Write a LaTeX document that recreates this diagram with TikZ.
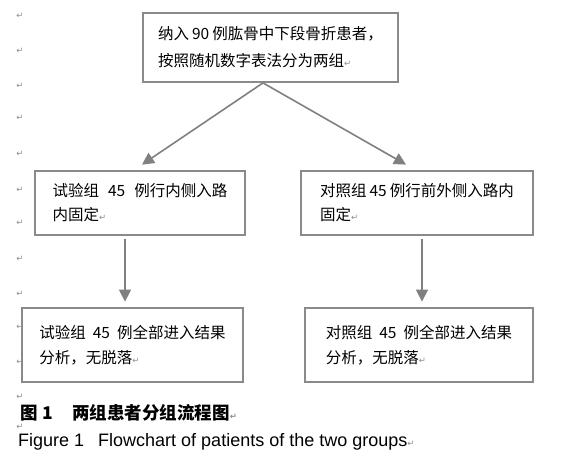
\documentclass[tikz,border=0pt]{standalone}
\usepackage{fontspec}
\setmainfont{Liberation Sans}
\newfontfamily\cjk{Noto Sans CJK SC}
\newfontfamily\djv{DejaVu Sans}
\usetikzlibrary{arrows.meta}
\definecolor{boxgray}{HTML}{8A8A8A}
\definecolor{arrgray}{HTML}{808080}
\definecolor{markgray}{HTML}{8C8C8C}
\newcommand\pmk{{\djv\fontsize{8.5}{8.5}\selectfont\textcolor{markgray}{↵}}}
\tikzset{
  flowbox/.style={draw=boxgray, line width=1.8pt, fill=white, align=left, inner sep=0pt,
    font=\cjk\fontsize{15.5}{25}\selectfont},
  flowarr/.style={draw=arrgray, line width=1.6pt, -{Triangle[width=12pt,length=12pt]}},
  margmark/.style={inner sep=0pt, anchor=center},
}
\begin{document}
\begin{tikzpicture}[x=1pt,y=-1pt]
\fill[white] (0,0) rectangle (568,465);
\useasboundingbox (0,0) rectangle (568,465);
% margin paragraph marks
\foreach \yy [count=\i] in {16,51,86,118,154,190,223,259,294,327,362,397,426.5}
  \node[margmark] (m\i) at (20,\yy) {\pmk};
% boxes
\node[flowbox, minimum width=255pt, minimum height=69pt, font=\cjk\fontsize{15.5}{27}\selectfont]
  (top) at (270.5,47.5) {纳入\hspace{3pt}90\hspace{3pt}例肱骨中下段骨折患者，\\按照随机数字表法分为两组\pmk};
\node[flowbox, minimum width=210pt, minimum height=64pt, font=\cjk\fontsize{15.5}{24}\selectfont]
  (ml) at (140,203) {试验组\hspace{9pt}45\hspace{9pt}例行内侧入路\\内固定\pmk};
\node[flowbox, minimum width=232pt, minimum height=64pt, font=\cjk\fontsize{15.5}{24}\selectfont]
  (mr) at (417,203) {对照组\hspace{3pt}45\hspace{3pt}例行前外侧入路内\\固定\pmk};
\node[flowbox, minimum width=221pt, minimum height=74pt]
  (bl) at (132.5,345) {试验组\hspace{7pt}45\hspace{7pt}例全部进入结果\\分析，无脱落\pmk};
\node[flowbox, minimum width=228pt, minimum height=74pt]
  (br) at (419,345) {对照组\hspace{7pt}45\hspace{7pt}例全部进入结果\\分析，无脱落\pmk};
% connectors
\draw[flowarr] ([xshift=-7.5pt]top.south) -- ([xshift=2pt,yshift=5.5pt]ml.north);
\draw[flowarr] ([xshift=-7.5pt]top.south) -- ([xshift=-11pt,yshift=5.5pt]mr.north);
\draw[flowarr] ([xshift=-15pt,yshift=-3pt]ml.south) -- ([xshift=-7.5pt,yshift=5.5pt]bl.north);
\draw[flowarr] ([xshift=5pt,yshift=-3pt]mr.south) -- ([xshift=3pt,yshift=5.5pt]br.north);
% captions
\node[anchor=base west, inner sep=0pt, font=\cjk\bfseries\fontsize{17.5}{20}\selectfont]
  (cap1) at (20,419.5) {图\hspace{5pt}1\hspace{19pt}两组患者分组流程图\pmk};
\node[anchor=base west, inner sep=0pt, font=\fontsize{18}{20}\selectfont]
  (cap2) at (18,446) {Figure 1\hspace{14pt}Flowchart of patients of the two groups\pmk};
\end{tikzpicture}
\end{document}
